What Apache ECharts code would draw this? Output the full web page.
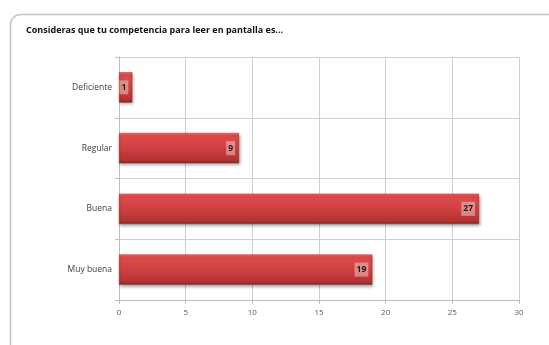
<!DOCTYPE html>
<html>
<head>
<meta charset="utf-8">
<script src="https://cdn.jsdelivr.net/npm/echarts@6/dist/echarts.min.js"></script>
<style>
  html, body { margin: 0; padding: 0; background: #ffffff; }
  #chart { width: 549px; height: 345px; }
</style>
</head>
<body>
<div id="chart"></div>
<script>
// Survey answers: self-rated competence for reading on screen
const categories = ['Deficiente', 'Regular', 'Buena', 'Muy buena'];
const counts = [1, 9, 27, 19];
const titleText = 'Consideras que tu competencia para leer en pantalla es...';

const FONT = '"Open Sans", "Liberation Sans", sans-serif';

const chart = echarts.init(document.getElementById('chart'), null, { renderer: 'canvas' });

const barFill = new echarts.graphic.LinearGradient(0, 0, 0, 1, [
  { offset: 0.0, color: '#f07575' },
  { offset: 0.08, color: '#e04c4c' },
  { offset: 0.5, color: '#d04040' },
  { offset: 0.9, color: '#b43232' },
  { offset: 1.0, color: '#8e2424' }
]);

chart.setOption({
  animation: false,
  backgroundColor: '#ffffff',
  graphic: [
    {
      type: 'rect',
      left: 8, top: 12,
      shape: { width: 560, height: 360, r: 10 },
      style: { fill: 'none', stroke: '#c4c4c4', lineWidth: 1.5 },
      silent: true
    }
  ],
  title: {
    text: titleText,
    left: 21, top: 21,
    textStyle: { fontFamily: FONT, fontSize: 9, fontWeight: 'bold', color: '#111111' }
  },
  grid: { left: 119, right: 30, top: 57, bottom: 45, containLabel: false },
  xAxis: {
    type: 'value',
    min: 0, max: 30, interval: 5,
    axisLine: { show: true, lineStyle: { color: '#bdbdbd', width: 1 } },
    axisTick: { show: true, length: 4, lineStyle: { color: '#bdbdbd' } },
    axisLabel: { color: '#595959', fontFamily: FONT, fontSize: 8, margin: 9 },
    splitLine: { show: true, lineStyle: { color: '#cfcfcf', width: 1 } }
  },
  yAxis: {
    type: 'category',
    data: categories,
    inverse: true,
    axisLine: { show: true, lineStyle: { color: '#bdbdbd', width: 1 } },
    axisTick: { show: true, length: 4, lineStyle: { color: '#bdbdbd' } },
    axisLabel: { color: '#404040', fontFamily: FONT, fontSize: 8.5, margin: 7 },
    splitLine: { show: true, lineStyle: { color: '#cfcfcf', width: 1 } }
  },
  series: [
    {
      type: 'bar',
      data: counts,
      barCategoryGap: '50%',
      itemStyle: {
        color: barFill,
        borderColor: '#9a2a2a',
        borderWidth: 0.5,
        shadowColor: 'rgba(0,0,0,0.35)',
        shadowBlur: 3,
        shadowOffsetX: 1,
        shadowOffsetY: 2
      },
      label: {
        show: true,
        position: 'insideRight',
        distance: 4,
        color: '#1a1a1a',
        fontFamily: FONT,
        fontSize: 8.5,
        fontWeight: 'bold',
        backgroundColor: 'rgba(255,255,255,0.38)',
        padding: [3, 2, 2, 2]
      }
    }
  ]
});
</script>
</body>
</html>
